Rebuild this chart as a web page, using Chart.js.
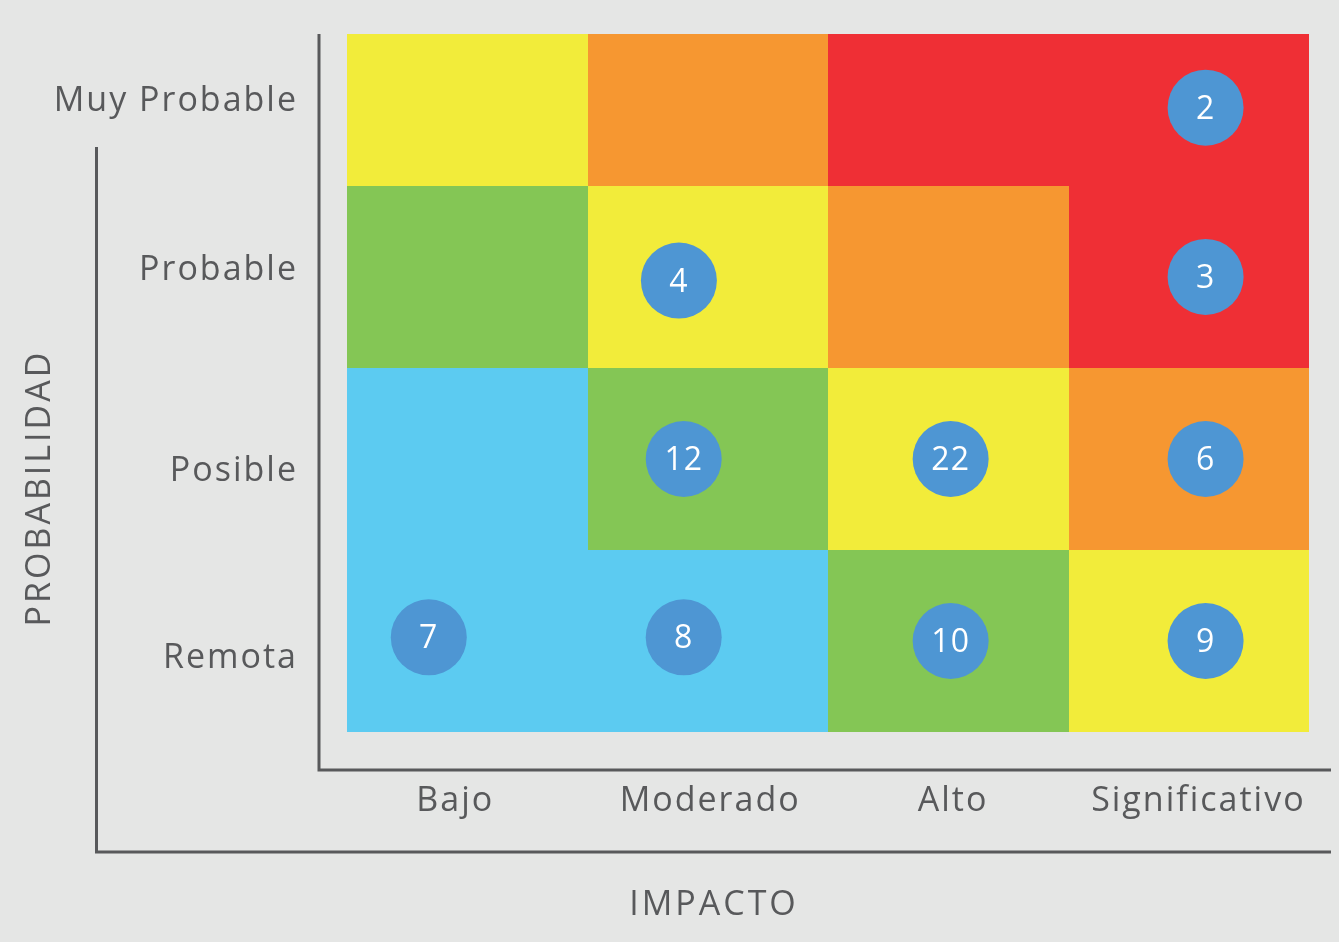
<!DOCTYPE html>
<html>
<head>
<meta charset="utf-8">
<script src="https://cdn.jsdelivr.net/npm/chart.js@4.4.1/dist/chart.umd.min.js"></script>
<style>
  html, body { margin: 0; padding: 0; background: #e5e6e5; }
  #wrap { width: 1339px; height: 942px; }
</style>
</head>
<body>
<div id="wrap"><canvas id="risk"></canvas></div>
<script>
// Categories
const impactLabels = ['Bajo', 'Moderado', 'Alto', 'Significativo']
const probLabels = ['Remota', 'Posible', 'Probable', 'Muy Probable']

// Where the tick labels sit (data units)
const impactTickValues = [0.45, 1.51, 2.52, 3.54]
const probTickValues = [0.405, 1.435, 2.535, 3.465]

// Cell level per row (bottom row first), per column
const cellLevels = [
  ['blue', 'blue', 'green', 'yellow'],
  ['blue', 'green', 'yellow', 'orange'],
  ['green', 'yellow', 'orange', 'red'],
  ['yellow', 'orange', 'red', 'red']
]

// Risk counts plotted on the matrix
const riskX = [3.57, 1.38, 3.57, 1.40, 2.51, 3.57, 0.34, 1.40, 2.51, 3.57]
const riskY = [3.43, 2.48, 2.50, 1.50, 1.50, 1.50, 0.52, 0.52, 0.50, 0.50]
const riskCount = [2, 4, 3, 12, 22, 6, 7, 8, 10, 9]

const levelColors = {
  blue: '#5ccbf1',
  green: '#84c655',
  yellow: '#f2ec3a',
  orange: '#f69731',
  red: '#ef2f35'
}

const textColor = '#58595b'
const fontFamily = "'Open Sans', 'Noto Sans', sans-serif"
const Y_MAX = 3.835

// Paint the matrix cells behind the bubbles
const cellsPlugin = {
  id: 'cells',
  beforeDraw(chart) {
    chart.ctx.letterSpacing = '2px'
  },
  beforeDatasetsDraw(chart) {
    const { ctx, scales: { x, y } } = chart
    ctx.save()
    cellLevels.forEach((row, r) => {
      row.forEach((level, c) => {
        const left = Math.round(x.getPixelForValue(c))
        const right = Math.round(x.getPixelForValue(c + 1))
        const bottom = Math.round(y.getPixelForValue(r))
        const top = Math.round(y.getPixelForValue(Math.min(r + 1, Y_MAX)))
        ctx.fillStyle = levelColors[level]
        ctx.fillRect(left, top, right - left, bottom - top)
      })
    })
    ctx.restore()
  }
}

// Numbers inside bubbles, axis frames and titles
const decorPlugin = {
  id: 'decor',
  afterDatasetsDraw(chart) {
    const { ctx } = chart
    const meta = chart.getDatasetMeta(0)
    ctx.save()
    ctx.letterSpacing = '1px'
    ctx.fillStyle = '#ffffff'
    ctx.font = '32px ' + fontFamily
    ctx.textAlign = 'center'
    ctx.textBaseline = 'middle'
    meta.data.forEach((pt, i) => {
      ctx.fillText(String(riskCount[i]), pt.x, pt.y + 2)
    })
    ctx.restore()
  },
  afterDraw(chart) {
    const { ctx, chartArea: a } = chart
    ctx.save()
    ctx.strokeStyle = textColor
    ctx.lineWidth = 3
    ctx.lineCap = 'butt'

    // inner axes
    ctx.beginPath()
    ctx.moveTo(a.left - 28, a.top)
    ctx.lineTo(a.left - 28, a.bottom + 38)
    ctx.lineTo(a.right + 22, a.bottom + 38)
    ctx.stroke()

    // outer frame
    ctx.beginPath()
    ctx.moveTo(96.5, a.top + 113)
    ctx.lineTo(96.5, a.bottom + 120)
    ctx.lineTo(a.right + 22, a.bottom + 120)
    ctx.stroke()

    ctx.fillStyle = textColor
    ctx.font = '34px ' + fontFamily
    ctx.letterSpacing = '3px'
    ctx.textAlign = 'center'
    ctx.textBaseline = 'middle'
    ctx.fillText('IMPACTO', 714, 905)

    ctx.translate(40, 488)
    ctx.rotate(-Math.PI / 2)
    ctx.fillText('PROBABILIDAD', 0, 0)
    ctx.restore()
  }
}

new Chart(document.getElementById('risk'), {
  type: 'bubble',
  data: {
    datasets: [{
      data: riskX.map((x, i) => ({ x: x, y: riskY[i], r: 38 })),
      backgroundColor: '#4e96d3',
      borderWidth: 0,
      hoverBackgroundColor: '#4e96d3'
    }]
  },
  plugins: [cellsPlugin, decorPlugin],
  options: {
    responsive: true,
    maintainAspectRatio: false,
    animation: false,
    layout: { autoPadding: false, padding: { top: 34, right: 30, left: 0, bottom: 0 } },
    plugins: {
      legend: { display: false },
      tooltip: { enabled: false }
    },
    scales: {
      x: {
        type: 'linear',
        min: 0,
        max: 4,
        afterFit(scale) {
          scale.height = 210
          scale.paddingLeft = 0
          scale.paddingRight = 0
        },
        afterBuildTicks(scale) {
          scale.ticks = impactTickValues.map(v => ({ value: v }))
        },
        grid: { display: false, drawTicks: false },
        border: { display: false },
        ticks: {
          padding: 49,
          color: textColor,
          font: { family: fontFamily, size: 34 },
          maxRotation: 0,
          autoSkip: false,
          callback: (v, i) => impactLabels[i]
        }
      },
      y: {
        type: 'linear',
        min: 0,
        max: Y_MAX,
        afterFit(scale) {
          scale.width = 347
          scale.paddingTop = 0
          scale.paddingBottom = 0
        },
        afterBuildTicks(scale) {
          scale.ticks = probTickValues.map(v => ({ value: v }))
        },
        grid: { display: false, drawTicks: false },
        border: { display: false },
        ticks: {
          padding: 49,
          color: textColor,
          font: { family: fontFamily, size: 34 },
          autoSkip: false,
          callback: (v, i) => probLabels[i]
        }
      }
    }
  }
})
</script>
</body>
</html>
